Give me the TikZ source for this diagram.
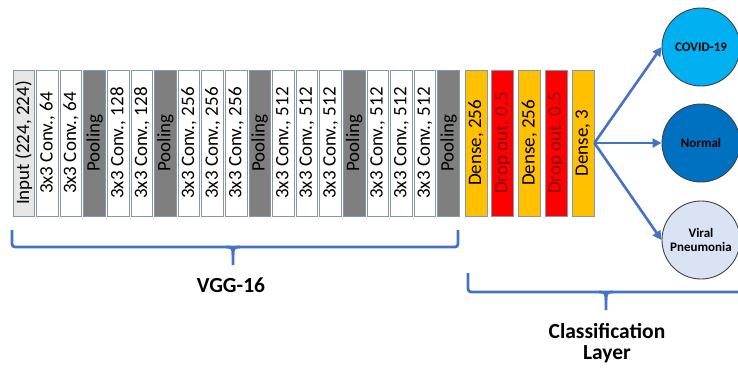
\documentclass[tikz,border=0pt]{standalone}
\usepackage{fontspec}
\setmainfont{Carlito}
\usetikzlibrary{arrows.meta}
\definecolor{edgeblue}{HTML}{4472C4}
\definecolor{boxline}{HTML}{8497B0}
\definecolor{poolgray}{HTML}{7F7F7F}
\definecolor{inputgray}{HTML}{E7E6E6}
\definecolor{denseorange}{HTML}{FFC000}
\definecolor{dropred}{HTML}{FF0000}
\definecolor{droptext}{HTML}{8A0000}
\definecolor{covidblue}{HTML}{00B0F0}
\definecolor{normalblue}{HTML}{0070C0}
\definecolor{viralblue}{HTML}{DAE3F3}
\definecolor{circline}{HTML}{404040}
\tikzset{
  layerbox/.style={draw=boxline, line width=0.8pt, rotate=90, minimum width=146pt,
    minimum height=21.5pt, inner sep=0pt, font=\fontsize{19}{21}\selectfont, anchor=center},
  convbox/.style={layerbox, fill=white},
  poolbox/.style={layerbox, fill=poolgray},
  inputbox/.style={layerbox, fill=inputgray},
  densebox/.style={layerbox, fill=denseorange, minimum height=22pt},
  dropbox/.style={layerbox, fill=dropred, text=droptext, minimum height=22pt},
  classcirc/.style={circle, draw=circline, line width=0.9pt, minimum size=78pt, inner sep=0pt,
    font=\bfseries\fontsize{13}{14.5}\selectfont, align=center},
  outarrow/.style={draw=edgeblue, line width=2.6pt, -{Triangle[length=9pt,width=9pt]}},
  bracestyle/.style={draw=edgeblue, line width=2.8pt, rounded corners=3pt},
  bracelabel/.style={font=\bfseries\fontsize{21.5}{24}\selectfont, align=center}
}
\begin{document}
\begin{tikzpicture}[x=1pt,y=-1pt]
\useasboundingbox (0,0) rectangle (738,367);
% VGG-16 layers
\node[inputbox] (l0)  at (23.75+0*23.6,143) {Input (224, 224)};
\node[convbox]  (l1)  at (23.75+1*23.6,143) {3x3 Conv., 64};
\node[convbox]  (l2)  at (23.75+2*23.6,143) {3x3 Conv., 64};
\node[poolbox]  (l3)  at (23.75+3*23.6,143) {Pooling};
\node[convbox]  (l4)  at (23.75+4*23.6,143) {3x3 Conv., 128};
\node[convbox]  (l5)  at (23.75+5*23.6,143) {3x3 Conv., 128};
\node[poolbox]  (l6)  at (23.75+6*23.6,143) {Pooling};
\node[convbox]  (l7)  at (23.75+7*23.6,143) {3x3 Conv., 256};
\node[convbox]  (l8)  at (23.75+8*23.6,143) {3x3 Conv., 256};
\node[convbox]  (l9)  at (23.75+9*23.6,143) {3x3 Conv., 256};
\node[poolbox]  (l10) at (23.75+10*23.6,143) {Pooling};
\node[convbox]  (l11) at (23.75+11*23.6,143) {3x3 Conv., 512};
\node[convbox]  (l12) at (23.75+12*23.6,143) {3x3 Conv., 512};
\node[convbox]  (l13) at (23.75+13*23.6,143) {3x3 Conv., 512};
\node[poolbox]  (l14) at (23.75+14*23.6,143) {Pooling};
\node[convbox]  (l15) at (23.75+15*23.6,143) {3x3 Conv., 512};
\node[convbox]  (l16) at (23.75+16*23.6,143) {3x3 Conv., 512};
\node[convbox]  (l17) at (23.75+17*23.6,143) {3x3 Conv., 512};
\node[poolbox]  (l18) at (23.75+18*23.6,143) {Pooling};
% Classification layers
\node[densebox] (d1) at (476+0*26.75,143) {Dense, 256};
\node[dropbox]  (d2) at (476+1*26.75,143) {Drop out, 0.5};
\node[densebox] (d3) at (476+2*26.75,143) {Dense, 256};
\node[dropbox]  (d4) at (476+3*26.75,143) {Drop out, 0.5};
\node[densebox] (d5) at (476+4*26.75,143) {Dense, 3};
% Output classes
\node[classcirc, fill=covidblue]  (covid)  at (701,47)  {COVID-19};
\node[classcirc, fill=normalblue] (normal) at (701,143) {Normal};
\node[classcirc, fill=viralblue]  (viral)  at (701,240) {Viral\\[-1pt]Pneumonia};
\draw[outarrow] (d5.south) -- (covid.west);
\draw[outarrow] (d5.south) -- (normal.west);
\draw[outarrow] (d5.south) -- (viral.west);
% VGG-16 brace
\coordinate (vgL) at (12,230);
\coordinate (vgR) at (458,230);
\coordinate (vgM) at (233,247);
\draw[bracestyle] (vgL) -- (12,247) -- (458,247) -- (vgR);
\draw[draw=edgeblue, line width=2.8pt] (226,247) .. controls (233,247) and (233,249) .. (233,255) -- (233,265);
\draw[draw=edgeblue, line width=2.8pt] (240,247) .. controls (233,247) and (233,249) .. (233,255);
\node[bracelabel] (vgglab) at (231,285) {VGG-16};
% Classification brace
\coordinate (clL) at (468,273);
\coordinate (clR) at (745,292);
\draw[bracestyle] (clL) -- (468,292) -- (clR);
\draw[draw=edgeblue, line width=2.8pt] (599,292) .. controls (606,292) and (606,294) .. (606,300) -- (606,310);
\draw[draw=edgeblue, line width=2.8pt] (613,292) .. controls (606,292) and (606,294) .. (606,300);
\node[bracelabel] (cllab) at (607,343) {Classification\\[-3pt]Layer};
\end{tikzpicture}
\end{document}
